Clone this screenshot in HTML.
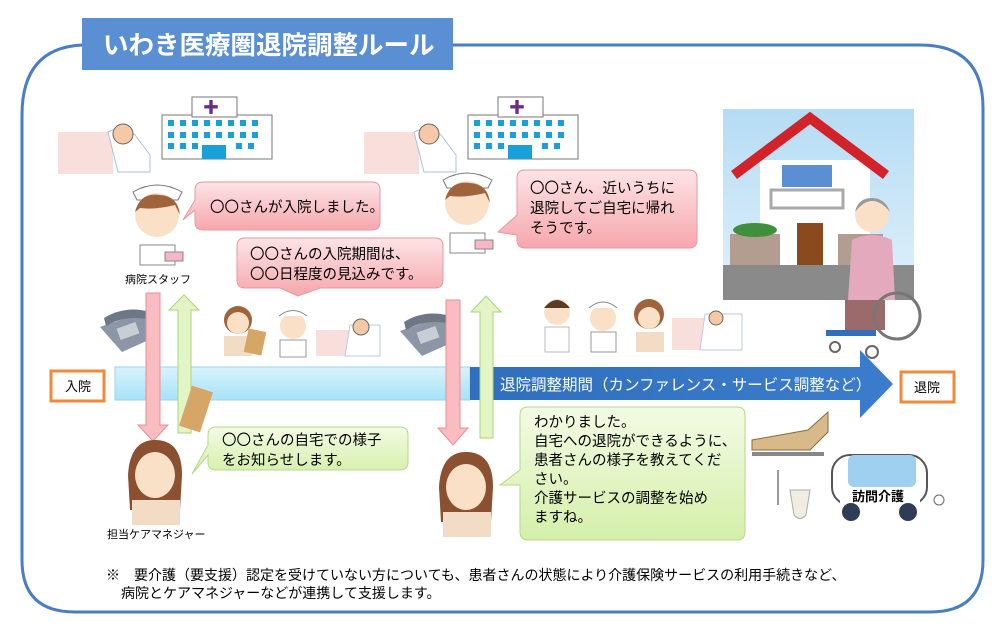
<!DOCTYPE html>
<html><head><meta charset="utf-8"><style>
body{margin:0;background:#fff}
svg{display:block}
text{font-family:"Liberation Sans","Noto Sans CJK JP",sans-serif}
</style></head><body>
<svg width="999" height="635" viewBox="0 0 999 635" xmlns="http://www.w3.org/2000/svg">
<defs>
<linearGradient id="pk" x1="0" y1="0" x2="0" y2="1"><stop offset="0" stop-color="#fde4e6"/><stop offset="1" stop-color="#f6a7ad"/></linearGradient>
<linearGradient id="gr" x1="0" y1="0" x2="0" y2="1"><stop offset="0" stop-color="#f3fbe4"/><stop offset="1" stop-color="#d5efaa"/></linearGradient>
<linearGradient id="lb" x1="0" y1="0" x2="0" y2="1"><stop offset="0" stop-color="#d9f3fd"/><stop offset="1" stop-color="#a8e2f7"/></linearGradient>
<linearGradient id="db" x1="0" y1="0" x2="1" y2="0"><stop offset="0" stop-color="#2f6fbd"/><stop offset="1" stop-color="#3b7ccc"/></linearGradient>
<linearGradient id="sky" x1="0" y1="0" x2="0" y2="1"><stop offset="0" stop-color="#b5dcf4"/><stop offset="1" stop-color="#e1f1fb"/></linearGradient>
</defs>
<path d="M82 45 H920 Q983 45 983 108 V560 Q983 612 930 612 H75 Q22 612 22 560 V115 Q22 48 82 45" fill="none" stroke="#4a7ec4" stroke-width="3"/>
<rect x="82" y="18" width="371" height="52" fill="#5a8fd3"/>
<text x="103" y="54" font-size="25.5" fill="#fff" font-weight="bold">いわき医療圏退院調整ルール</text>

<g>
<rect x="58" y="132" width="55" height="42" fill="#f9dfdc"/>
<path d="M108 132 Q122 125 135 135 L150 155 V172 H118 Z" fill="#fff" stroke="#a9c2dc"/>
<circle cx="123" cy="134" r="10" fill="#f5c9a5" stroke="#666"/>
<rect x="162" y="115" width="110" height="44" fill="#fff" stroke="#777"/>
<rect x="192" y="97" width="45" height="20" fill="#fff" stroke="#777"/>
<text x="203" y="113" font-size="16" fill="#6a2c8c">✚</text>
<g fill="#1aa0d8"><rect x="168" y="120" width="6" height="6"/><rect x="180" y="120" width="6" height="6"/><rect x="192" y="120" width="6" height="6"/><rect x="204" y="120" width="6" height="6"/><rect x="216" y="120" width="6" height="6"/><rect x="228" y="120" width="6" height="6"/><rect x="240" y="120" width="6" height="6"/><rect x="252" y="120" width="6" height="6"/>
<rect x="168" y="132" width="6" height="6"/><rect x="180" y="132" width="6" height="6"/><rect x="192" y="132" width="6" height="6"/><rect x="204" y="132" width="6" height="6"/><rect x="216" y="132" width="6" height="6"/><rect x="228" y="132" width="6" height="6"/><rect x="240" y="132" width="6" height="6"/><rect x="252" y="132" width="6" height="6"/>
<rect x="168" y="143" width="6" height="6"/><rect x="180" y="143" width="6" height="6"/><rect x="192" y="143" width="6" height="6"/><rect x="236" y="143" width="6" height="6"/><rect x="248" y="143" width="6" height="6"/><rect x="202" y="145" width="24" height="14"/></g>
</g>
<g transform="translate(306,0)">
<rect x="58" y="132" width="55" height="42" fill="#f9dfdc"/>
<path d="M108 132 Q122 125 135 135 L150 155 V172 H118 Z" fill="#fff" stroke="#a9c2dc"/>
<circle cx="123" cy="134" r="10" fill="#f5c9a5" stroke="#666"/>
<rect x="162" y="115" width="110" height="44" fill="#fff" stroke="#777"/>
<rect x="192" y="97" width="45" height="20" fill="#fff" stroke="#777"/>
<text x="203" y="113" font-size="16" fill="#6a2c8c">✚</text>
<g fill="#1aa0d8"><rect x="168" y="120" width="6" height="6"/><rect x="180" y="120" width="6" height="6"/><rect x="192" y="120" width="6" height="6"/><rect x="204" y="120" width="6" height="6"/><rect x="216" y="120" width="6" height="6"/><rect x="228" y="120" width="6" height="6"/><rect x="240" y="120" width="6" height="6"/><rect x="252" y="120" width="6" height="6"/>
<rect x="168" y="132" width="6" height="6"/><rect x="180" y="132" width="6" height="6"/><rect x="192" y="132" width="6" height="6"/><rect x="204" y="132" width="6" height="6"/><rect x="216" y="132" width="6" height="6"/><rect x="228" y="132" width="6" height="6"/><rect x="240" y="132" width="6" height="6"/><rect x="252" y="132" width="6" height="6"/>
<rect x="168" y="143" width="6" height="6"/><rect x="180" y="143" width="6" height="6"/><rect x="192" y="143" width="6" height="6"/><rect x="236" y="143" width="6" height="6"/><rect x="248" y="143" width="6" height="6"/><rect x="202" y="145" width="24" height="14"/></g>
</g>

<g>
<path d="M133 192 Q157 178 182 192 L178 200 H137 Z" fill="#fff" stroke="#777"/>
<circle cx="157" cy="215" r="22" fill="#fbe0c8"/>
<path d="M135 212 Q140 192 160 195 Q178 196 180 215 L175 205 Q155 210 140 208 Z" fill="#a0643c"/>
<path d="M140 245 H175 V265 H140 Z" fill="#fff" stroke="#888"/>
<rect x="165" y="252" width="18" height="9" fill="#f7b7c4" stroke="#888"/>
</g>
<text x="125" y="283" font-size="11">病院スタッフ</text>
<g transform="translate(310,-12)">
<path d="M133 192 Q157 178 182 192 L178 200 H137 Z" fill="#fff" stroke="#777"/>
<circle cx="157" cy="215" r="22" fill="#fbe0c8"/>
<path d="M135 212 Q140 192 160 195 Q178 196 180 215 L175 205 Q155 210 140 208 Z" fill="#a0643c"/>
<path d="M140 245 H175 V265 H140 Z" fill="#fff" stroke="#888"/>
<rect x="165" y="252" width="18" height="9" fill="#f7b7c4" stroke="#888"/>
</g>

<path d="M203 182 H372 Q380 182 380 190 V222 Q380 230 372 230 H203 Q195 230 195 222 V210 L183 220 L195 200 V190 Q195 182 203 182 Z" fill="url(#pk)" stroke="#e59aa0"/>
<text x="210" y="212" font-size="14.5">〇〇さんが入院しました。</text>
<path d="M245 238 H435 Q443 238 443 246 V280 Q443 288 435 288 H320 L298 296 L280 288 H245 Q237 288 237 280 V246 Q237 238 245 238 Z" fill="url(#pk)" stroke="#e59aa0"/>
<text x="250" y="259" font-size="14.5">〇〇さんの入院期間は、</text>
<text x="250" y="279" font-size="14.5">〇〇日程度の見込みです。</text>
<path d="M525 170 H689 Q697 170 697 178 V240 Q697 248 689 248 H525 Q517 248 517 240 V235 L498 232 L517 215 V178 Q517 170 525 170 Z" fill="url(#pk)" stroke="#e59aa0"/>
<text x="530" y="193" font-size="14.5">〇〇さん、近いうちに</text>
<text x="530" y="213" font-size="14.5">退院してご自宅に帰れ</text>
<text x="530" y="233" font-size="14.5">そうです。</text>

<circle cx="238" cy="320" r="14" fill="#a0643c"/><circle cx="238" cy="323" r="11" fill="#fbe0c8"/><rect x="224" y="336" width="28" height="20" fill="#f3dcc6"/>
<rect x="246" y="330" width="18" height="24" fill="#d6a667" transform="rotate(12 255 342)"/>
<circle cx="293" cy="326" r="13" fill="#fbe0c8"/><path d="M279 316 Q293 305 307 316" fill="#fff" stroke="#888"/><rect x="280" y="340" width="26" height="17" fill="#fff" stroke="#999"/>
<rect x="316" y="330" width="40" height="26" fill="#f9dfdc"/><path d="M350 325 H380 V356 H345 Z" fill="#fff" stroke="#bcd"/><circle cx="361" cy="327" r="8" fill="#f5c9a5" stroke="#666"/>
<g><path d="M100 327 L140 313 L160 335 L122 352 Z" fill="#8c96a6"/><path d="M104 318 Q125 305 150 312 L152 320 Q125 314 106 326 Z" fill="#6e7786"/><rect x="118" y="325" width="20" height="12" fill="#c8cdd6" transform="rotate(-20 128 331)"/></g>
<g transform="translate(300,4)"><path d="M100 327 L140 313 L160 335 L122 352 Z" fill="#8c96a6"/><path d="M104 318 Q125 305 150 312 L152 320 Q125 314 106 326 Z" fill="#6e7786"/><rect x="118" y="325" width="20" height="12" fill="#c8cdd6" transform="rotate(-20 128 331)"/></g>

<circle cx="557" cy="312" r="13" fill="#fbe0c8"/><path d="M544 308 Q557 292 570 308" fill="#5a3a22"/><rect x="545" y="327" width="24" height="25" fill="#fff" stroke="#bbb"/>
<circle cx="603" cy="318" r="13" fill="#fbe0c8"/><path d="M589 308 Q603 296 617 308" fill="#fff" stroke="#888"/><rect x="591" y="332" width="25" height="20" fill="#fff" stroke="#999"/>
<circle cx="649" cy="314" r="15" fill="#a0643c"/><circle cx="649" cy="318" r="11" fill="#fbe0c8"/><rect x="636" y="332" width="28" height="20" fill="#f3dcc6"/>
<rect x="672" y="318" width="40" height="32" fill="#f9dfdc"/><path d="M705 314 H742 V350 H700 Z" fill="#fff" stroke="#bcd"/><circle cx="716" cy="318" r="7" fill="#f5c9a5" stroke="#666"/>

<rect x="723" y="109" width="191" height="191" fill="url(#sky)"/>
<rect x="723" y="265" width="191" height="35" fill="#8a8a8a"/>
<rect x="760" y="160" width="110" height="105" fill="#fff"/>
<path d="M734 175 L810 118 L886 175" fill="none" stroke="#d2232a" stroke-width="10"/>
<rect x="782" y="165" width="50" height="22" fill="#5a8fd3"/>
<rect x="771" y="190" width="72" height="18" fill="#fff" stroke="#aaa" stroke-width="3"/>
<rect x="797" y="223" width="26" height="42" fill="#8a4a1e"/>
<rect x="730" y="234" width="50" height="31" fill="#b39d91"/><rect x="838" y="234" width="45" height="31" fill="#b39d91"/>
<ellipse cx="755" cy="230" rx="22" ry="7" fill="#3f8f3c"/>
<circle cx="872" cy="215" r="17" fill="#fbe0c8"/><path d="M855 212 Q872 190 890 212 Q885 198 872 198 Q858 198 855 212" fill="#9a9a9a"/>
<path d="M852 240 Q872 230 892 240 L895 300 H848 Z" fill="#e4a9bd"/>
<rect x="845" y="300" width="40" height="30" fill="#9b6a6a"/>
<circle cx="897" cy="316" r="23" fill="none" stroke="#777" stroke-width="3"/>
<rect x="826" y="330" width="50" height="6" fill="#2f6fbd"/>
<circle cx="835" cy="347" r="5" fill="none" stroke="#666" stroke-width="2"/><circle cx="872" cy="352" r="6" fill="none" stroke="#666" stroke-width="2"/>

<rect x="115" y="367" width="355" height="33" fill="url(#lb)" stroke="#9dd3ea"/>
<path d="M470 367 H860 V350 L893 384 L860 418 V400 H470 Z" fill="url(#db)"/>
<text x="500" y="390" font-size="15.5" fill="#fff">退院調整期間（カンファレンス・サービス調整など）</text>
<rect x="51" y="371" width="53" height="30" fill="#fff" stroke="#ef8a3a" stroke-width="3"/>
<text x="65" y="391" font-size="13">入院</text>
<rect x="901" y="372" width="53" height="30" fill="#fff" stroke="#ef8a3a" stroke-width="3"/>
<text x="914" y="392" font-size="13">退院</text>

<path d="M146 293 H160 V425 H168 L153 441 L138 425 H146 Z" fill="#f9bcc0" stroke="#ec8d95"/>
<path d="M178 433 H191 V310 H199 L184 295 L169 310 H178 Z" fill="#e3f5c6" stroke="#a9d67a"/>
<path d="M446 300 H460 V428 H468 L453 445 L438 428 H446 Z" fill="#f9bcc0" stroke="#ec8d95"/>
<path d="M480 438 H493 V312 H501 L486 296 L471 312 H480 Z" fill="#e3f5c6" stroke="#a9d67a"/>
<rect x="185" y="388" width="22" height="42" fill="#d6a667" transform="rotate(18 196 409)"/>

<path d="M216 427 H400 Q408 427 408 435 V462 Q408 470 400 470 H216 Q208 470 208 462 V455 L192 474 L208 445 V435 Q208 427 216 427 Z" fill="url(#gr)" stroke="#b3d98a"/>
<text x="222" y="445" font-size="14.5">〇〇さんの自宅での様子</text>
<text x="222" y="465" font-size="14.5">をお知らせします。</text>
<path d="M528 407 H737 Q745 407 745 415 V532 Q745 540 737 540 H528 Q520 540 520 532 V485 L500 485 L520 470 V415 Q520 407 528 407 Z" fill="url(#gr)" stroke="#b3d98a"/>
<text x="534" y="427" font-size="14.5">わかりました。</text>
<text x="534" y="446" font-size="14.5">自宅への退院ができるように、</text>
<text x="534" y="465" font-size="14.5">患者さんの様子を教えてくだ</text>
<text x="534" y="484" font-size="14.5">さい。</text>
<text x="534" y="503" font-size="14.5">介護サービスの調整を始め</text>
<text x="534" y="522" font-size="14.5">ますね。</text>

<g><path d="M128 475 Q130 440 155 440 Q182 440 182 475 L180 510 H130 Z" fill="#8a5030"/><ellipse cx="155" cy="475" rx="20" ry="23" fill="#fbe0c8"/><path d="M132 500 H180 V525 H132 Z" fill="#f3dcc6"/></g>
<text x="107" y="538" font-size="11">担当ケアマネジャー</text>
<g transform="translate(311,12)"><path d="M128 475 Q130 440 155 440 Q182 440 182 475 L180 510 H130 Z" fill="#8a5030"/><ellipse cx="155" cy="475" rx="20" ry="23" fill="#fbe0c8"/><path d="M132 500 H180 V525 H132 Z" fill="#f3dcc6"/></g>

<path d="M752 440 L808 430 L828 412 V432 L810 450 H752 Z" fill="#d8b98a" stroke="#8a6a3e"/>
<rect x="752" y="452" width="72" height="4" fill="#888"/>
<line x1="778" y1="470" x2="778" y2="505" stroke="#999" stroke-width="2"/>
<path d="M790 490 H810 L806 515 Q800 522 794 515 Z" fill="#f2ede2" stroke="#aaa"/>
<rect x="832" y="455" width="95" height="50" rx="18" fill="#fff" stroke="#555" stroke-width="2"/>
<rect x="848" y="455" width="68" height="32" rx="6" fill="#9fd0ef"/>
<rect x="840" y="488" width="80" height="18" fill="#fff"/>
<text x="852" y="501" font-size="13" font-weight="bold">訪問介護</text>
<circle cx="851" cy="512" r="9" fill="#2e3d55"/><circle cx="908" cy="512" r="9" fill="#2e3d55"/>
<circle cx="939" cy="500" r="5" fill="#fff" stroke="#666"/>

<text x="106" y="580" font-size="14">※　要介護（要支援）認定を受けていない方についても、患者さんの状態により介護保険サービスの利用手続きなど、</text>
<text x="121" y="598" font-size="14">病院とケアマネジャーなどが連携して支援します。</text>
</svg>
</body></html>
